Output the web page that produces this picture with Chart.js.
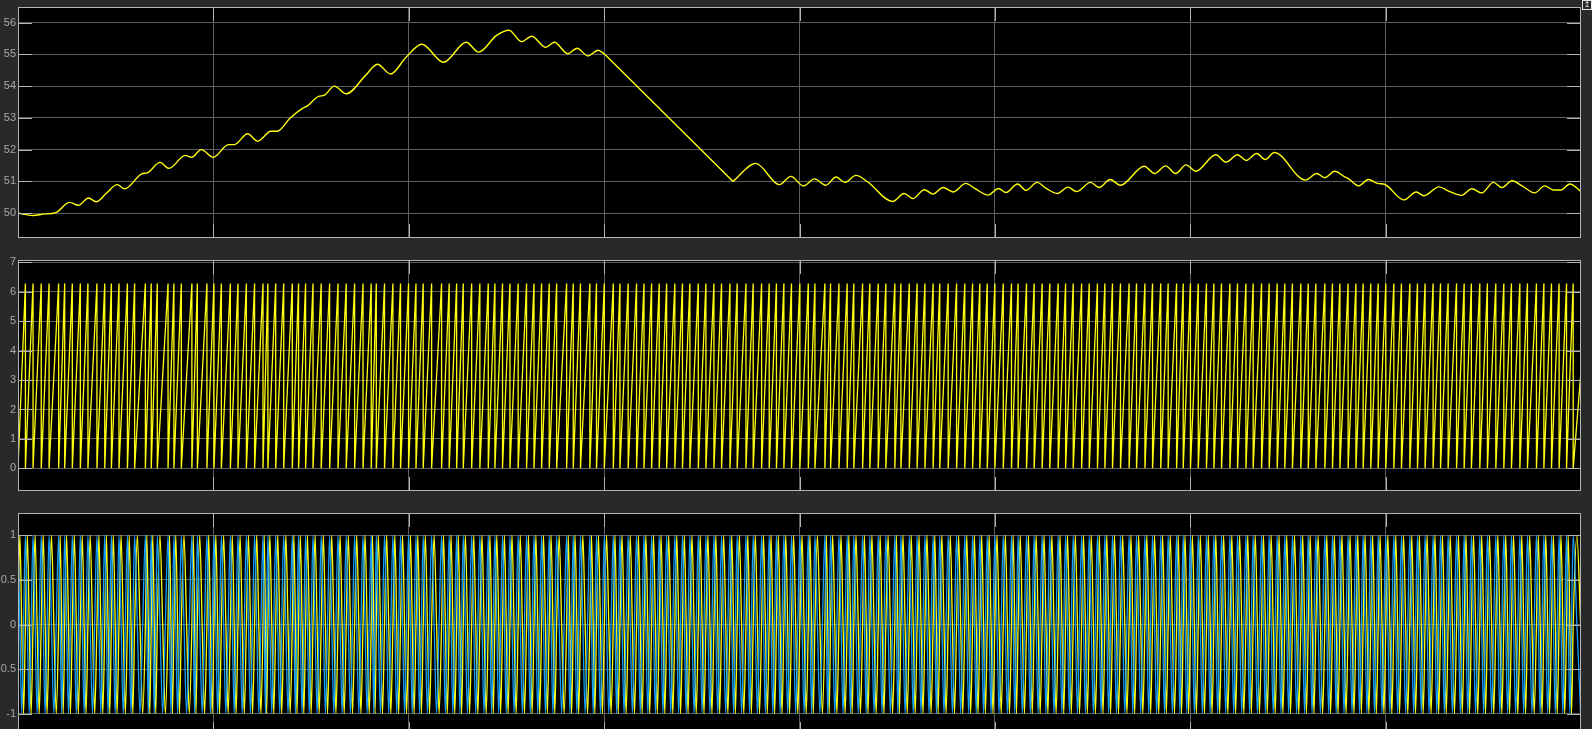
<!DOCTYPE html>
<html>
<head>
<meta charset="utf-8">
<script src="https://cdn.jsdelivr.net/npm/chart.js@4"></script>
<style>
  html, body { margin: 0; padding: 0; background: #292929; overflow: hidden; width: 1592px; height: 729px; }
  canvas { position: absolute; left: 0; }
  #c1 { top: 0; }
  #c2 { top: 248px; }
  #c3 { top: 501px; }
  #icon { position: absolute; left: 1582px; top: 0; width: 8px; height: 8px; border: 1px solid #e6e6e6;
          color: #e6e6e6; font: 8px "DejaVu Sans"; line-height: 8px; text-align: center; overflow: hidden; }
</style>
</head>
<body>
<canvas id="c1" width="1592" height="250"></canvas>
<canvas id="c2" width="1592" height="255"></canvas>
<canvas id="c3" width="1592" height="245"></canvas>
<div id="icon">↥</div>
<script>
// ---------------- data ----------------
// Plot 1: frequency trace (time, value)
const freqTime = [0.000,0.077,0.129,0.193,0.265,0.309,0.361,0.400,0.451,0.508,0.546,0.631,0.665,0.727,0.773,0.856,0.889,0.938,1.000,1.077,1.108,1.175,1.227,1.294,1.327,1.392,1.456,1.482,1.539,1.567,1.619,1.680,1.778,1.840,1.907,1.985,2.067,2.178,2.294,2.358,2.448,2.513,2.577,2.629,2.701,2.745,2.814,2.861,2.918,2.969,3.003,3.660,3.776,3.897,3.956,4.020,4.077,4.134,4.188,4.232,4.289,4.348,4.477,4.536,4.580,4.639,4.683,4.735,4.786,4.851,4.897,4.966,5.018,5.057,5.116,5.160,5.216,5.263,5.320,5.374,5.418,5.490,5.534,5.590,5.642,5.765,5.817,5.874,5.925,5.979,6.028,6.131,6.183,6.242,6.286,6.340,6.384,6.430,6.590,6.647,6.688,6.740,6.791,6.809,6.861,6.912,6.964,6.990,7.093,7.157,7.196,7.273,7.325,7.389,7.441,7.492,7.552,7.595,7.647,7.698,7.763,7.814,7.861,7.897,7.943,7.995,8.000];
const freqValue = [50.00,49.93,49.97,50.02,50.34,50.25,50.48,50.36,50.62,50.90,50.77,51.23,51.28,51.60,51.41,51.82,51.76,52.00,51.76,52.16,52.16,52.50,52.27,52.58,52.58,52.99,53.30,53.38,53.68,53.71,54.00,53.76,54.33,54.69,54.38,54.90,55.32,54.75,55.38,55.07,55.59,55.76,55.40,55.57,55.22,55.38,55.02,55.19,54.95,55.13,55.00,51.00,51.57,50.90,51.16,50.86,51.08,50.88,51.14,50.97,51.19,50.99,50.37,50.62,50.46,50.74,50.60,50.81,50.67,50.94,50.78,50.57,50.78,50.65,50.92,50.72,50.97,50.78,50.62,50.82,50.68,50.97,50.81,51.06,50.88,51.48,51.25,51.49,51.25,51.52,51.32,51.84,51.61,51.84,51.66,51.88,51.69,51.91,51.04,51.25,51.12,51.32,51.14,51.09,50.86,51.06,50.93,50.92,50.42,50.67,50.55,50.83,50.69,50.56,50.77,50.64,50.97,50.81,51.02,50.86,50.64,50.86,50.73,50.73,50.92,50.71,50.68];
// straight ramp-down section of the trace (between these two sample times)
const rampStart = 3.003, rampEnd = 3.660;

// Plot 2: phase ramps, times where the phase wraps from 2*pi back to 0
const phaseWrap = [0.038,0.077,0.119,0.159,0.208,0.239,0.278,0.319,0.358,0.404,0.444,0.478,0.517,0.560,0.597,0.652,0.682,0.713,0.768,0.798,0.836,0.890,0.918,0.967,1.003,1.041,1.087,1.126,1.169,1.211,1.254,1.279,1.319,1.360,1.404,1.436,1.472,1.510,1.552,1.595,1.638,1.680,1.723,1.766,1.808,1.834,1.876,1.919,1.958,1.999,
2.037,2.074,2.117,2.168,2.207,2.245,2.279,2.322,2.364,2.407,2.441,2.480,2.518,2.560,2.603,2.641,2.680,2.719,2.757,2.808,2.842,2.879,2.927,2.961,3.001,3.047,3.081,3.123,3.166,3.204,3.243,3.282,3.320,3.362,3.401,3.439,3.482,3.521,3.562,3.601,3.644,3.681,3.726,3.763,3.806,3.845,3.882,3.920,3.959,4.002,4.045,
4.079,4.130,4.159,4.202,4.244,4.278,4.323,4.360,4.403,4.442,4.488,4.519,4.562,4.602,4.642,4.684,4.718,4.761,4.804,4.846,4.886,4.923,4.961,5.000,5.043,5.085,5.119,5.162,5.201,5.242,5.281,5.324,5.362,5.401,5.444,5.483,5.525,5.563,5.602,5.643,5.687,5.725,5.768,5.807,5.849,5.887,5.930,5.964,6.001,6.041,
6.083,6.121,6.160,6.203,6.242,6.285,6.322,6.365,6.404,6.445,6.484,6.523,6.566,6.604,6.643,6.689,6.728,6.766,6.808,6.848,6.885,6.924,6.962,7.001,7.042,7.081,7.124,7.163,7.202,7.243,7.281,7.320,7.363,7.402,7.439,7.482,7.521,7.564,7.605,7.644,7.687,7.726,7.772,7.810,7.849,7.888,7.926,7.960];
const phaseTop = 6.2832;     // value at each peak (2*pi)
const phaseStart = 0;        // value at t = 0
const phaseEndTime = 8;      // last sample time
const phaseEndValue = 3.3;   // value at the last sample

// Plot 3: sin / cos of the phase, value at each quarter turn of every ramp
const quarterPhase = [0, 1.5708, 3.1416, 4.7124];
const sinAtQuarter = [0, 1, 0, -1];
const cosAtQuarter = [1, 0, -1, 0];

// axis ticks
const xGridTicks = [1, 2, 3, 4, 5, 6, 7];
const yTicks1 = [50, 51, 52, 53, 54, 55, 56];
const yTicks2 = [0, 1, 2, 3, 4, 5, 6, 7];
const yTicks3 = [-1, -0.5, 0, 0.5, 1];

// ---------------- build series ----------------
const freqPts = freqTime.map((t, i) => ({ x: t, y: freqValue[i] }));
const freqBefore = freqPts.filter(p => p.x <= rampStart);
const freqRamp = freqPts.filter(p => p.x >= rampStart && p.x <= rampEnd);
const freqAfter = freqPts.filter(p => p.x >= rampEnd);

const phasePts = [{ x: 0, y: phaseStart }];
phaseWrap.forEach(t => { phasePts.push({ x: t, y: phaseTop }); phasePts.push({ x: t, y: 0 }); });
phasePts.push({ x: phaseEndTime, y: phaseEndValue });

const sinPts = [], cosPts = [];
for (let i = 0; i + 1 < phasePts.length; i++) {
  const a = phasePts[i], b = phasePts[i + 1];
  if (b.y <= a.y) continue; // vertical wrap
  quarterPhase.forEach((q, k) => {
    if (q >= a.y && q <= b.y) {
      const t = a.x + (q - a.y) / (b.y - a.y) * (b.x - a.x);
      sinPts.push({ x: t, y: sinAtQuarter[k] });
      cosPts.push({ x: t, y: cosAtQuarter[k] });
    }
  });
}

// ---------------- styling ----------------
const AXIS = '#b4b4b4', GRID = '#5e5e5e', LABEL = '#a8a8a8';
const YELLOW = '#ffff11', BLUE = '#139fff';

const frame = {
  id: 'frame',
  beforeDraw(chart) {
    const a = chart.chartArea, c = chart.ctx;
    c.save(); c.fillStyle = '#000';
    c.fillRect(a.left, a.top, a.right - a.left, a.bottom - a.top);
    c.restore();
  },
  afterDraw(chart) {
    const a = chart.chartArea, c = chart.ctx, L = 14;
    const xs = chart.scales.x, ys = chart.scales.y;
    c.save();
    c.strokeStyle = AXIS; c.lineWidth = 1;
    c.beginPath();
    ys.ticks.forEach(t => {
      const y = Math.round(ys.getPixelForValue(t.value)) + 0.5;
      c.moveTo(a.left, y); c.lineTo(a.left + L, y);
      c.moveTo(a.right - L, y); c.lineTo(a.right, y);
    });
    xs.ticks.forEach(t => {
      const x = Math.round(xs.getPixelForValue(t.value)) + 0.5;
      c.moveTo(x, a.bottom); c.lineTo(x, a.bottom - L);
      c.moveTo(x, a.top); c.lineTo(x, a.top + L);
    });
    c.stroke();
    c.strokeRect(Math.round(a.left) + 0.5, Math.round(a.top) + 0.5,
                 Math.round(a.right - a.left) - 1, Math.round(a.bottom - a.top) - 1);
    c.restore();
  }
};

function makeChart(id, datasets, ymin, ymax, yTicks, pad) {
  return new Chart(document.getElementById(id), {
    type: 'line',
    data: { datasets },
    plugins: [frame],
    options: {
      responsive: false, animation: false, events: [],
      layout: { padding: { left: 0, right: 11, top: pad[0], bottom: pad[1] } },
      plugins: { legend: { display: false }, tooltip: { enabled: false } },
      elements: {
        point: { radius: 0 },
        line: { borderWidth: 1.3, tension: 0 }
      },
      scales: {
        x: {
          type: 'linear', min: 0, max: 8,
          afterBuildTicks: s => { s.ticks = xGridTicks.map(v => ({ value: v })); },
          afterFit: s => { s.height = 0; s.paddingLeft = 0; s.paddingRight = 0; },
          ticks: { display: false },
          grid: { color: GRID, lineWidth: 1, drawTicks: false },
          border: { display: false }
        },
        y: {
          type: 'linear', min: ymin, max: ymax,
          afterBuildTicks: s => { s.ticks = yTicks.map(v => ({ value: v })); },
          afterFit: s => { s.width = 18; s.paddingTop = 0; s.paddingBottom = 0; },
          ticks: { color: LABEL, padding: 2, font: { family: 'Liberation Sans, Arial, sans-serif', size: 11 },
                   callback: v => String(v) },
          grid: { color: GRID, lineWidth: 1, drawTicks: false },
          border: { display: false }
        }
      }
    }
  });
}

makeChart('c1', [
  { data: freqBefore, borderColor: YELLOW, borderWidth: 1.4, cubicInterpolationMode: 'monotone' },
  { data: freqRamp, borderColor: YELLOW, borderWidth: 1.4 },
  { data: freqAfter, borderColor: YELLOW, borderWidth: 1.4, cubicInterpolationMode: 'monotone' }
], 49.22, 56.49, yTicks1, [7, 12]);
makeChart('c2', [{ data: phasePts, borderColor: YELLOW, borderWidth: 1.3 }], -0.77, 7.08, yTicks2, [12, 12]);
makeChart('c3', [
  { data: cosPts, borderColor: BLUE, borderWidth: 1.3, cubicInterpolationMode: 'monotone' },
  { data: sinPts, borderColor: YELLOW, borderWidth: 1.3, cubicInterpolationMode: 'monotone' }
], -1.25, 1.25, yTicks3, [12, 10]);
</script>
</body>
</html>
